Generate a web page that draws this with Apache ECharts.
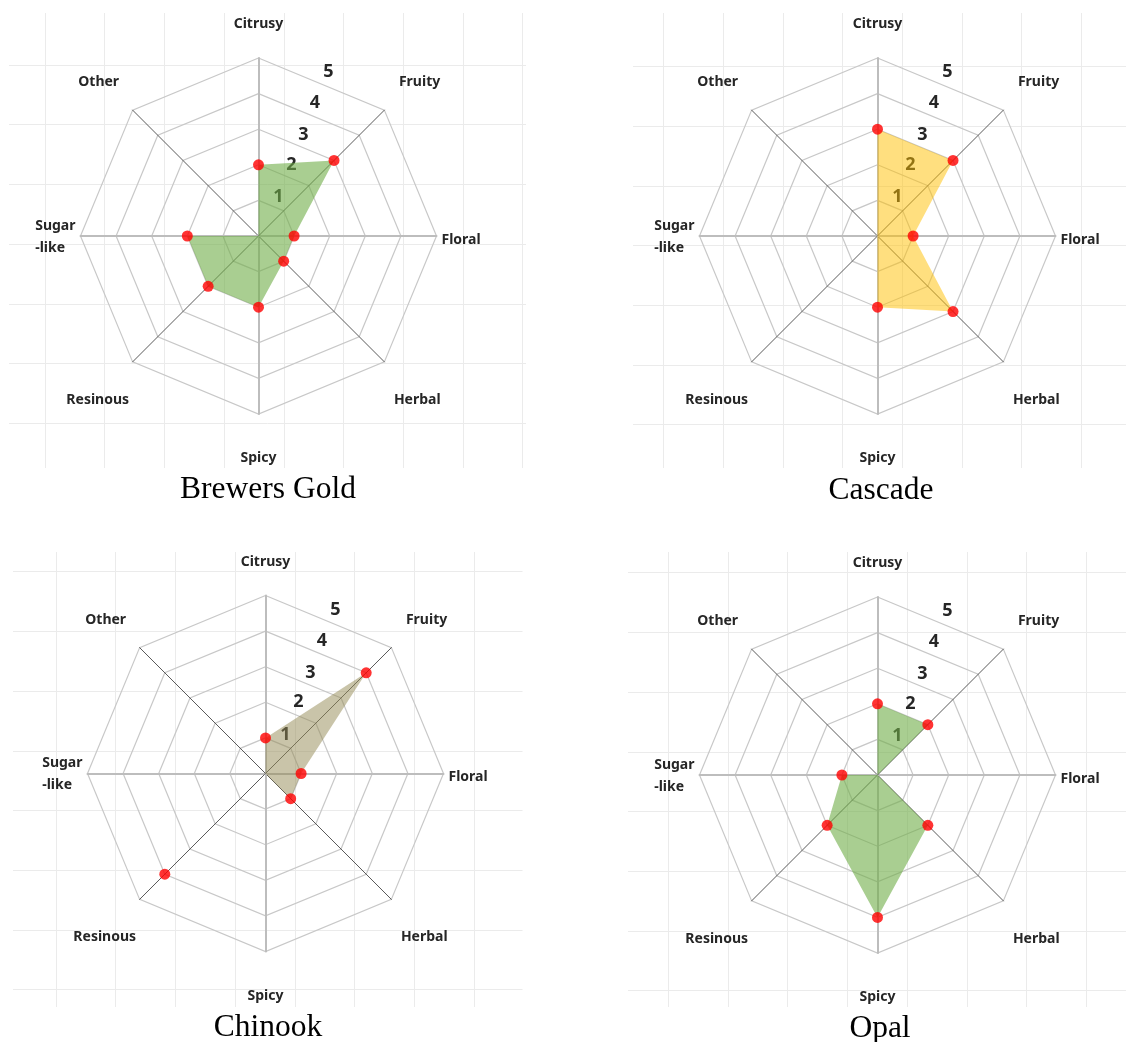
<!DOCTYPE html>
<html><head><meta charset="utf-8">
<script src="https://cdn.jsdelivr.net/npm/echarts@6/dist/echarts.min.js"></script>
<style>html,body{margin:0;padding:0;background:#fff}#chart{width:1126px;height:1042px}</style>
</head><body><div id="chart"></div>
<script>
// ---- data ----
const categories = ['Citrusy', 'Fruity', 'Floral', 'Herbal', 'Spicy', 'Resinous', 'Sugar-like', 'Other'];
const tickLabels = ['1', '2', '3', '4', '5'];
const hopNames = ['Brewers Gold', 'Cascade', 'Chinook', 'Opal'];
const brewersGold = [2, 3, 1, 1, 2, 2, 2, 0];
const cascade = [3, 3, 1, 3, 2, 0, 0, 0];
const chinook = [1, 4, 1, 1, 0, 4, 0, 0];
const opal = [2, 2, 0, 2, 4, 2, 1, 0];
const maxValue = 5;

// ---- layout / style ----
const R = 178;
const panels = [
  { name: hopNames[0], values: brewersGold, center: [258.5, 236], title: [268, 489.5], fill: '#70AD47', alpha: 0.6,
    vg: { left: 45, top: 13, n: 8, h: 455 }, hg: { left: 9, top: 65, w: 517, n: 6 } },
  { name: hopNames[1], values: cascade, center: [877.5, 236], title: [881, 490.5], fill: '#FFC000', alpha: 0.5,
    vg: { left: 663.5, top: 13, n: 7, h: 455 }, hg: { left: 633, top: 66.5, w: 493, n: 6 } },
  { name: hopNames[2], values: chinook, center: [265.5, 773.5], title: [268, 1027.5], fill: '#948A54', alpha: 0.5,
    vg: { left: 56, top: 552, n: 7, h: 455 }, hg: { left: 13, top: 571.7, w: 509.5, n: 7 } },
  { name: hopNames[3], values: opal, center: [877.5, 775], title: [880, 1029], fill: '#70AD47', alpha: 0.6,
    vg: { left: 668.3, top: 552, n: 7, h: 455 }, hg: { left: 628, top: 572.7, w: 498, n: 7 } }
];
const cell = 59.7;
// ECharts radar runs counter-clockwise; reorder so the chart reads clockwise from the top
const order = [0, 7, 6, 5, 4, 3, 2, 1];
const diagonal = { 'Fruity': 1, 'Herbal': 1, 'Resinous': 1, 'Other': 1 };
const nameFont = { fontFamily: 'Noto Sans', fontSize: 14, fontWeight: 'bold', color: '#262626', lineHeight: 18 };
const nameRich = {
  n0: Object.assign({}, nameFont, { padding: [0, 0, 39, 0] }),
  n1: Object.assign({}, nameFont, { padding: [0, 0, 49, 11] }),
  n2: Object.assign({}, nameFont, { padding: [8, 0, 0, 0] }),
  n3: Object.assign({}, nameFont, { padding: [69, 0, 0, 6] }),
  n4: Object.assign({}, nameFont, { padding: [61, 0, 0, 0] }),
  n5: Object.assign({}, nameFont, { padding: [69, 0, 0, 0] }),
  n6: Object.assign({}, nameFont, { align: 'left', lineHeight: 24, padding: [4, 0, 0, 0] }),
  n6b: Object.assign({}, nameFont, { align: 'left', lineHeight: 24 }),
  n7: Object.assign({}, nameFont, { padding: [0, 10, 49, 0] })
};
const tickFont = { fontFamily: 'Noto Sans', fontSize: 18, fontWeight: 'bold', color: '#262626', lineHeight: 10 };
const tickRich = {
  t1: Object.assign({}, tickFont, { padding: [0, 0, 7, 40] }),
  t2: Object.assign({}, tickFont, { padding: [0, 0, 0, 66] }),
  t3: Object.assign({}, tickFont, { padding: [12, 0, 0, 90] }),
  t4: Object.assign({}, tickFont, { padding: [19, 0, 0, 113] }),
  // top label is carried by the Fruity axis (see indicator setup)
  t5: Object.assign({}, tickFont, { padding: [0, 112, 76, 0] })
};

const option = { animation: false, backgroundColor: '#fff',
  title: [], grid: [], xAxis: [], yAxis: [], radar: [], polar: [], angleAxis: [], radiusAxis: [], series: [] };

const hidden = { show: false };
const tickLabelBase = { show: true, showMinLabel: false, hideOverlap: false, margin: 0,
  align: 'center', verticalAlign: 'middle', rich: tickRich };
panels.forEach((p, k) => {
  // background worksheet-style grid
  const gv = option.grid.length;
  option.grid.push({ left: p.vg.left, top: p.vg.top, width: cell * p.vg.n, height: p.vg.h });
  option.xAxis.push({ gridIndex: gv, type: 'value', min: 0, max: p.vg.n, interval: 1, z: 0,
    axisLine: hidden, axisTick: hidden, axisLabel: hidden,
    splitLine: { show: true, lineStyle: { color: '#ebebeb', width: 1 } } });
  option.yAxis.push({ gridIndex: gv, type: 'value', show: false });
  const gh = option.grid.length;
  option.grid.push({ left: p.hg.left, top: p.hg.top, width: p.hg.w, height: cell * p.hg.n });
  option.xAxis.push({ gridIndex: gh, type: 'value', show: false });
  option.yAxis.push({ gridIndex: gh, type: 'value', min: 0, max: p.hg.n, interval: 1, z: 0,
    axisLine: hidden, axisTick: hidden, axisLabel: hidden,
    splitLine: { show: true, lineStyle: { color: '#ebebeb', width: 1 } } });

  // radar frame
  option.radar.push({
    center: p.center, radius: R, shape: 'polygon', splitNumber: 5, z: 1,
    nameGap: 5,
    axisName: Object.assign({}, nameFont, {
      rich: nameRich,
      formatter: function (name) {
        const key = 'n' + categories.indexOf(name);
        if (name === 'Sugar-like') return '{' + key + '|Sugar}\n{' + key + 'b|-like}';
        return '{' + key + '|' + name + '}';
      }
    }),
    axisLine: { show: true, lineStyle: { color: '#bdbdbd', width: 2 } },
    axisTick: hidden,
    axisLabel: { show: false },
    splitLine: { lineStyle: { color: '#c8c8c8', width: 1.2 } },
    splitArea: hidden,
    indicator: order.map((i) => {
      const cat = categories[i];
      const ind = { name: cat, min: 0, max: maxValue, nameMoveOverlap: false };
      if (diagonal[cat]) ind.axisLine = { lineStyle: { color: '#5a5a5a', width: 1 } };
      if (cat === 'Citrusy') ind.axisLabel = Object.assign({}, tickLabelBase, { showMaxLabel: false,
        formatter: function (v) { return (v > 0 && v < maxValue) ? '{t' + v + '|' + tickLabels[v - 1] + '}' : ''; } });
      if (cat === 'Fruity') ind.axisLabel = Object.assign({}, tickLabelBase, { showMaxLabel: true,
        formatter: function (v) { return v === maxValue ? '{t' + v + '|' + tickLabels[v - 1] + '}' : ''; } });
      return ind;
    })
  });
  option.series.push({ type: 'radar', radarIndex: k, symbol: 'none', silent: true, z: 2,
    lineStyle: { width: 0, opacity: 0 },
    areaStyle: { color: p.fill, opacity: p.alpha },
    data: [{ name: p.name, value: order.map(i => p.values[i]) }] });

  // polar twin of the radar, used to place the red markers
  option.polar.push({ center: p.center, radius: R });
  option.angleAxis.push({ polarIndex: k, type: 'category', data: categories, boundaryGap: false,
    startAngle: 90, clockwise: true, show: false });
  option.radiusAxis.push({ polarIndex: k, type: 'value', min: 0, max: maxValue, show: false });
  option.series.push({ type: 'scatter', coordinateSystem: 'polar', polarIndex: k, silent: true, z: 3,
    symbol: 'circle', symbolSize: function (d) { return d[0] > 0 ? 11 : 0; },
    itemStyle: { color: '#ff0000' },
    data: p.values.map((v, i) => [v, categories[i]]) });

  option.title.push({ text: p.name, left: p.title[0], top: p.title[1], textAlign: 'center',
    textVerticalAlign: 'middle', padding: 0,
    textStyle: { fontFamily: 'Liberation Serif', fontSize: 31.5, fontWeight: 'normal', color: '#000' } });
});

const chart = echarts.init(document.getElementById('chart'));
chart.setOption(option);
</script></body></html>
